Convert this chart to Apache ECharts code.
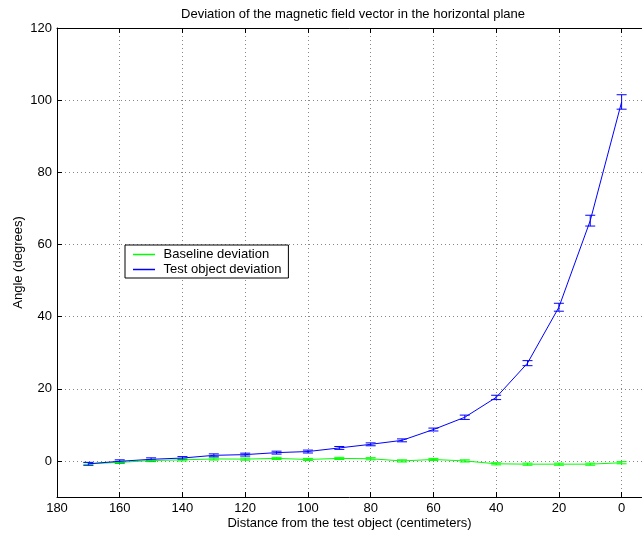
<!DOCTYPE html>
<html>
<head>
<meta charset="utf-8">
<script src="https://cdn.jsdelivr.net/npm/echarts@6/dist/echarts.min.js"></script>
<style>
  html, body { margin: 0; padding: 0; background: #fff; overflow: hidden; }
  #chart { width: 642px; height: 536px; }
</style>
</head>
<body>
<div id="chart"></div>
<script>
// Distance of the sensor from the test object (cm)
const distances = [170, 160, 150, 140, 130, 120, 110, 100, 90, 80, 70, 60, 50, 40, 30, 20, 10, 0];

// Mean deviation angle (degrees) and its error, with the test object present
const testMean = [-0.8, -0.1, 0.45, 0.8, 1.55, 1.75, 2.3, 2.6, 3.6, 4.6, 5.7, 8.7, 12.1, 17.6, 27.1, 42.6, 66.6, 99.5];
const testErr  = [0.4, 0.4, 0.4, 0.4, 0.4, 0.4, 0.4, 0.4, 0.4, 0.4, 0.4, 0.4, 0.6, 0.6, 0.7, 1.1, 1.5, 2.0];

// Baseline deviation (degrees) without the test object
const baseMean = [-0.8, -0.4, 0.1, 0.3, 0.55, 0.5, 0.7, 0.4, 0.7, 0.6, 0.0, 0.4, 0.0, -0.8, -0.9, -0.9, -0.9, -0.5];
const baseErr  = [0.3, 0.3, 0.3, 0.3, 0.3, 0.3, 0.3, 0.3, 0.3, 0.3, 0.3, 0.3, 0.3, 0.3, 0.3, 0.3, 0.3, 0.3];

// Tick positions
const xTicks = [180, 160, 140, 120, 100, 80, 60, 40, 20, 0];
const yTicks = [0, 20, 40, 60, 80, 100, 120];

const FONT = 'Liberation Sans, Arial, Helvetica, sans-serif';
const BLUE = '#0000ff';
const GREEN = '#00ff00';

function errorBars(name, means, errs, color) {
  return {
    type: 'custom',
    name: name,
    silent: true,
    z: 3,
    data: distances.map((d, i) => [d, means[i] - errs[i], means[i] + errs[i]]),
    renderItem(params, api) {
      const lo = api.coord([api.value(0), api.value(1)]);
      const hi = api.coord([api.value(0), api.value(2)]);
      const hw = 5;
      const style = { stroke: color, lineWidth: 1, fill: null };
      return {
        type: 'group',
        children: [
          { type: 'line', shape: { x1: lo[0], y1: lo[1], x2: hi[0], y2: hi[1] }, style },
          { type: 'line', shape: { x1: lo[0] - hw, y1: lo[1], x2: lo[0] + hw, y2: lo[1] }, style },
          { type: 'line', shape: { x1: hi[0] - hw, y1: hi[1], x2: hi[0] + hw, y2: hi[1] }, style }
        ]
      };
    }
  };
}

function lineSeries(name, means, color) {
  return {
    type: 'line',
    name: name,
    data: distances.map((d, i) => [d, means[i]]),
    symbol: 'none',
    showSymbol: false,
    lineStyle: { color: color, width: 1 },
    itemStyle: { color: color },
    z: 4
  };
}

const axisLineStyle = { show: true, onZero: false, lineStyle: { color: '#000', width: 1 } };
const gridLine = { show: true, lineStyle: { color: '#888', width: 1, type: [1, 3] } };
const tickStyle = (vals) => ({ show: true, inside: true, length: 5, customValues: vals, lineStyle: { color: '#000' } });

const chart = echarts.init(document.getElementById('chart'), null, { renderer: 'canvas' });
chart.setOption({
  animation: false,
  backgroundColor: '#fff',
  textStyle: { fontFamily: FONT },
  title: {
    text: 'Deviation of the magnetic field vector in the horizontal plane',
    left: 348, top: 3, textAlign: 'center',
    textStyle: { fontFamily: FONT, fontSize: 13, fontWeight: 'normal', color: '#000' }
  },
  // the plot frame runs to the right edge of the canvas
  grid: { left: 57, right: 0, top: 28, bottom: 39, containLabel: false },
  legend: {
    data: [
      { name: 'Baseline deviation', itemStyle: { color: GREEN, borderWidth: 0 } },
      { name: 'Test object deviation', itemStyle: { color: BLUE, borderWidth: 0 } }
    ],
    orient: 'vertical',
    left: 125, top: 245,
    padding: [3, 7, 2, 8],
    itemGap: 2,
    itemWidth: 22, itemHeight: 1.5,
    icon: 'rect',
    formatter: ' {name}',
    borderColor: '#000', borderWidth: 1,
    backgroundColor: '#fff',
    textStyle: { fontFamily: FONT, fontSize: 13, lineHeight: 13, color: '#000' },
    selectedMode: false
  },
  xAxis: [
    {
      type: 'value', inverse: true, min: -6.5, max: 180, position: 'bottom',
      name: 'Distance from the test object (centimeters)',
      nameLocation: 'middle', nameGap: 20, nameMoveOverlap: false,
      nameTextStyle: { fontFamily: FONT, fontSize: 13, color: '#000' },
      axisLine: axisLineStyle,
      axisTick: tickStyle(xTicks),
      axisLabel: { show: true, customValues: xTicks, color: '#000', fontSize: 13, fontFamily: FONT, margin: 5 },
      splitLine: gridLine
    },
    {
      type: 'value', inverse: true, min: -6.5, max: 180, position: 'top',
      axisLine: axisLineStyle,
      axisTick: tickStyle(xTicks),
      axisLabel: { show: false },
      splitLine: { show: false }
    }
  ],
  yAxis: [
    {
      type: 'value', min: -10, max: 120, position: 'left',
      name: 'Angle (degrees)',
      nameLocation: 'middle', nameGap: 32, nameMoveOverlap: false,
      nameTextStyle: { fontFamily: FONT, fontSize: 13, color: '#000' },
      axisLine: axisLineStyle,
      axisTick: tickStyle(yTicks),
      axisLabel: { show: true, customValues: yTicks, color: '#000', fontSize: 13, fontFamily: FONT, margin: 5 },
      splitLine: gridLine
    }
  ],
  series: [
    lineSeries('Baseline deviation', baseMean, GREEN),
    lineSeries('Test object deviation', testMean, BLUE),
    errorBars('Baseline error', baseMean, baseErr, GREEN),
    errorBars('Test object error', testMean, testErr, BLUE)
  ]
});
</script>
</body>
</html>
